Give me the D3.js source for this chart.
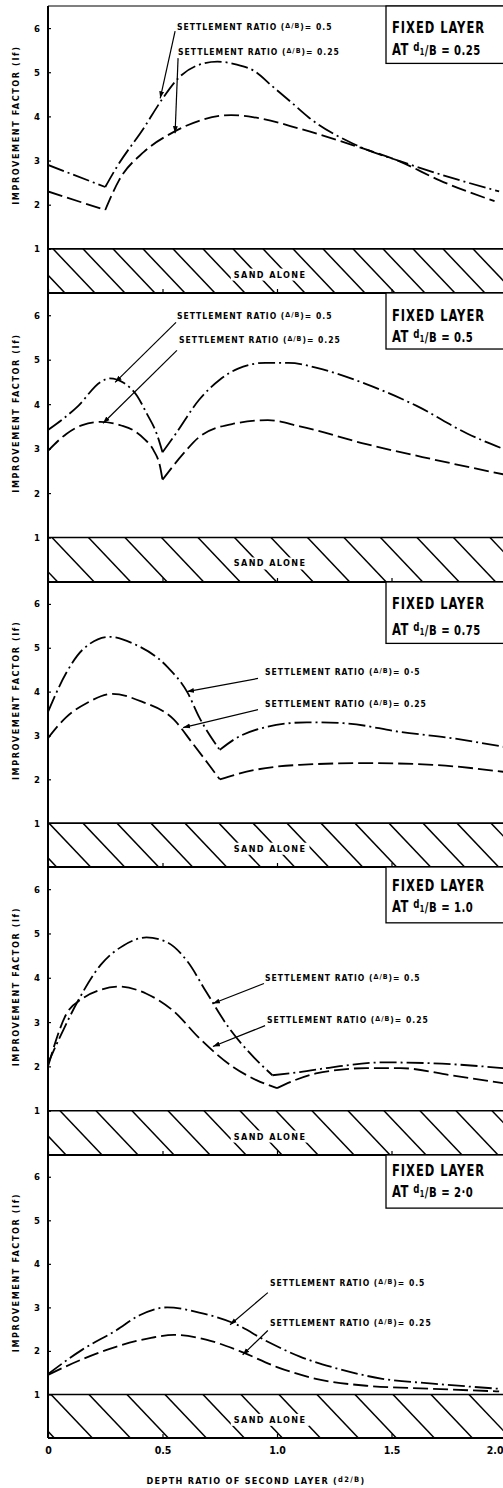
<!DOCTYPE html>
<html><head><meta charset="utf-8">
<script src="https://cdn.jsdelivr.net/npm/d3@7"></script>
<style>
body{margin:0;background:#fff;}
svg{display:block;}
text{font-family:"Liberation Sans Narrow","DejaVu Sans Condensed","Arial Narrow",sans-serif;font-weight:bold;fill:#000;}
</style></head><body><svg id="c" width="503" height="1488"></svg>
<script>
// ---------- DATA ----------
const xTickValues = [0, 0.5, 1.0, 1.5, 2.0];
const xTickLabels = ["0", "0.5", "1.0", "1.5", "2.0"];
const yTickValues = [1, 2, 3, 4, 5, 6];
const fixedLayerLabels = ["0.25", "0.5", "0.75", "1.0", "2·0"];
const ratio05Labels = ["0.5", "0.5", "0·5", "0.5", "0.5"];
const ratio025Labels = ["0.25", "0.25", "0.25", "0.25", "0.25"];

// panel 1 : fixed layer at d1/B = 0.25
const p1Ratio05 = [[0,2.9],[0.25,2.4],[0.30,2.85],[0.42,3.75],[0.5,4.4],[0.57,4.87],[0.65,5.15],[0.74,5.24],[0.82,5.18],[0.9,5.03],[0.98,4.68],[1.06,4.33],[1.14,3.97],[1.35,3.34],[1.54,2.98],[1.73,2.66],[1.97,2.3]];
const p1Ratio025 = [[0,2.3],[0.25,1.88],[0.31,2.55],[0.42,3.2],[0.55,3.65],[0.66,3.9],[0.8,4.03],[0.9,3.98],[1.1,3.72],[1.33,3.35],[1.54,2.97],[1.71,2.55],[1.95,2.08]];
// panel 2 : d1/B = 0.5
const p2Ratio05 = [[0,3.42],[0.13,3.95],[0.23,4.5],[0.27,4.58],[0.33,4.48],[0.39,4.18],[0.43,3.8],[0.475,3.33],[0.5,2.92],[0.56,3.35],[0.66,4.1],[0.75,4.55],[0.83,4.8],[0.95,4.93],[1.05,4.93],[1.2,4.78],[1.39,4.45],[1.61,3.96],[1.83,3.34],[1.99,2.99]];
const p2Ratio025 = [[0,2.95],[0.08,3.33],[0.15,3.53],[0.23,3.6],[0.32,3.52],[0.37,3.42],[0.42,3.22],[0.46,2.97],[0.49,2.58],[0.5,2.3],[0.59,2.88],[0.66,3.26],[0.81,3.56],[0.96,3.64],[1.1,3.5],[1.39,3.1],[1.68,2.76],[1.99,2.42]];
// panel 3 : d1/B = 0.75
const p3Ratio05 = [[0,3.54],[0.08,4.43],[0.15,4.95],[0.27,5.25],[0.37,5.1],[0.52,4.57],[0.61,3.97],[0.66,3.42],[0.75,2.67],[0.81,2.9],[0.96,3.2],[1.13,3.3],[1.29,3.28],[1.54,3.08],[1.76,2.94],[1.99,2.74]];
const p3Ratio025 = [[0,2.94],[0.08,3.42],[0.17,3.74],[0.28,3.95],[0.41,3.77],[0.55,3.36],[0.63,2.83],[0.71,2.28],[0.75,2.0],[0.9,2.21],[1.1,2.33],[1.39,2.37],[1.68,2.33],[1.99,2.17]];
// panel 4 : d1/B = 1.0
const p4Ratio05 = [[0,2.07],[0.05,2.64],[0.13,3.47],[0.23,4.29],[0.33,4.73],[0.43,4.91],[0.52,4.8],[0.61,4.36],[0.69,3.69],[0.79,2.87],[0.9,2.2],[0.98,1.8],[1.1,1.87],[1.24,1.98],[1.46,2.09],[1.68,2.07],[1.99,1.96]];
const p4Ratio025 = [[0,2.0],[0.08,3.18],[0.15,3.53],[0.23,3.73],[0.31,3.8],[0.43,3.64],[0.55,3.24],[0.66,2.64],[0.81,1.98],[0.91,1.69],[1.0,1.51],[1.17,1.84],[1.39,1.96],[1.54,1.96],[1.76,1.8],[1.99,1.62]];
// panel 5 : d1/B = 2.0
const p5Ratio05 = [[0,1.47],[0.15,2.03],[0.3,2.48],[0.4,2.82],[0.52,3.0],[0.66,2.88],[0.81,2.64],[0.96,2.21],[1.1,1.87],[1.24,1.63],[1.46,1.36],[1.68,1.25],[1.97,1.13]];
const p5Ratio025 = [[0,1.45],[0.15,1.81],[0.3,2.1],[0.45,2.3],[0.55,2.37],[0.69,2.26],[0.84,1.99],[1.0,1.63],[1.17,1.36],[1.39,1.2],[1.68,1.13],[1.97,1.07]];

// sharp corners (minimum points) of each series
const kinks05 = [0.25, 0.5, 0.75, 0.98, null];
const kinks025 = [0.25, 0.5, 0.75, 1.0, null];

const series05 = [p1Ratio05, p2Ratio05, p3Ratio05, p4Ratio05, p5Ratio05];
const series025 = [p1Ratio025, p2Ratio025, p3Ratio025, p4Ratio025, p5Ratio025];

// ---------- LAYOUT ----------
const panelBottoms = [293, 582, 867, 1155, 1438];
const panelTops = [6, 293, 582, 867, 1155];
const hatchSpacing = [30, 36.5, 34, 36, 38];
const hatchStart = [53, 52, 49, 60, 51];
// annotation layout in data coords: [textX, textY, arrowFromX, arrowFromY, arrowToX, arrowToY]
const ann05 = [[0.563,5.95,0.555,5.93,0.49,4.41],[0.563,5.91,0.559,5.84,0.293,4.49],[0.948,4.37,0.917,4.30,0.607,4.0],[0.948,3.93,0.943,3.87,0.72,3.42],[0.969,3.5,0.96,3.34,0.795,2.6]];
const ann025 = [[0.568,5.38,0.568,5.32,0.555,3.62],[0.572,5.37,0.563,5.21,0.24,3.57],[0.948,3.64,0.917,3.59,0.59,3.18],[0.956,2.97,0.948,2.92,0.72,2.45],[0.969,2.58,0.96,2.47,0.85,1.91]];
const legendBottomV = [5.2, 5.24, 5.1, 5.24, 5.28];
const legendLine1 = [27, 28, 27, 24, 21];
const legendLine2 = [49, 49, 53, 45, 42];

const svg = d3.select("#c");
const x = d3.scaleLinear().domain([0, 2]).range([48, 506]);

const defs = svg.append("defs");
defs.append("marker").attr("id","arr").attr("viewBox","0 0 10 10").attr("refX",10).attr("refY",5)
  .attr("markerWidth",7).attr("markerHeight",7).attr("markerUnits","userSpaceOnUse").attr("orient","auto")
  .append("path").attr("d","M0,1.5 L10,5 L0,8.5 Z").attr("fill","#000");

function splitAt(data, k) {
  if (k === null) return [data];
  return [data.filter(d => d[0] <= k), data.filter(d => d[0] >= k)];
}

for (let i = 0; i < 5; i++) {
  const bottom = panelBottoms[i], top = panelTops[i];
  const y = d3.scaleLinear().domain([0, 6.5]).range([bottom, top]);
  const g = svg.append("g");

  defs.append("clipPath").attr("id","clip"+i).append("rect")
    .attr("x", x(0)).attr("y", top).attr("width", 503 - x(0)).attr("height", bottom - top);
  defs.append("clipPath").attr("id","band"+i).append("rect")
    .attr("x", x(0)).attr("y", y(1)).attr("width", 503 - x(0)).attr("height", y(0) - y(1));

  // hatch band (sand alone)
  const h = y(0) - y(1);
  const hatch = g.append("g").attr("clip-path","url(#band"+i+")");
  const starts = d3.range(hatchStart[i] - 2*hatchSpacing[i], 540, hatchSpacing[i]);
  hatch.selectAll("line").data(starts).join("line")
    .attr("x1", d => d).attr("y1", y(1)).attr("x2", d => d + h*0.95).attr("y2", y(0))
    .attr("stroke","#000").attr("stroke-width",1.5);
  g.append("line").attr("x1", x(0)).attr("x2", 503).attr("y1", y(1)).attr("y2", y(1))
    .attr("stroke","#000").attr("stroke-width",1.6);
  g.append("line").attr("x1", x(0)).attr("x2", 503).attr("y1", y(0)).attr("y2", y(0))
    .attr("stroke","#000").attr("stroke-width",2.2);
  if (i === 0) g.append("line").attr("x1", x(0)).attr("x2", 503).attr("y1", top).attr("y2", top)
    .attr("stroke","#000").attr("stroke-width",1.2);

  // sand alone label
  const sa = g.append("text").attr("x", x(0.97)).attr("y", y(0.42)).attr("dy","0.35em")
    .attr("text-anchor","middle").attr("font-size", 9).attr("letter-spacing", 1.4)
    .text("SAND  ALONE");
  const bb = sa.node().getBBox();
  g.insert("rect", "text").attr("x", bb.x - 3).attr("y", bb.y - 1).attr("width", bb.width + 6)
    .attr("height", bb.height + 2).attr("fill","#fff");

  // curves
  const line = d3.line().x(d => x(d[0])).y(d => y(d[1])).curve(d3.curveMonotoneX);
  const cg = g.append("g").attr("clip-path","url(#clip"+i+")");
  splitAt(series05[i], kinks05[i]).forEach(seg => {
    cg.append("path").attr("d", line(seg)).attr("fill","none").attr("stroke","#000")
      .attr("stroke-width",1.8).attr("stroke-dasharray","17,4,2,4");
  });
  splitAt(series025[i], kinks025[i]).forEach(seg => {
    cg.append("path").attr("d", line(seg)).attr("fill","none").attr("stroke","#000")
      .attr("stroke-width",1.8).attr("stroke-dasharray","15,5");
  });

  // annotations
  [[ann05[i], ratio05Labels[i]], [ann025[i], ratio025Labels[i]]].forEach(([a, lab]) => {
    g.append("line").attr("x1", x(a[2])).attr("y1", y(a[3])).attr("x2", x(a[4])).attr("y2", y(a[5]))
      .attr("stroke","#000").attr("stroke-width",1.2).attr("marker-end","url(#arr)");
    const t = g.append("text").attr("x", x(a[0])).attr("y", y(a[1])).attr("font-size", 8.5)
      .attr("letter-spacing", 1.0);
    t.append("tspan").text("SETTLEMENT  RATIO (");
    t.append("tspan").attr("font-size", 7).attr("dy", -2).text("Δ/B");
    t.append("tspan").attr("dy", 2).text(")= " + lab);
  });

  // legend box
  const lb = y(legendBottomV[i]);
  const lx = x(1.476);
  g.append("rect").attr("x", lx).attr("y", top).attr("width", 140).attr("height", lb - top)
    .attr("fill","#fff").attr("stroke","#000").attr("stroke-width",1.3);
  g.append("g").attr("transform", `translate(${lx + 6},${top + legendLine1[i]}) scale(0.8,1)`)
    .append("text").attr("font-size", 16).attr("letter-spacing", 1.2).text("FIXED LAYER");
  const l2 = g.append("g").attr("transform", `translate(${lx + 6},${top + legendLine2[i]}) scale(0.8,1)`)
    .append("text").attr("font-size", 16).attr("letter-spacing", 0.6);
  l2.append("tspan").text("AT ");
  l2.append("tspan").attr("font-size", 12).attr("dy", -4).text("d");
  l2.append("tspan").attr("font-size", 9).attr("dy", 4).text("1");
  l2.append("tspan").attr("font-size", 14).text("/B = " + fixedLayerLabels[i]);

  // y axis ticks
  const ya = d3.axisLeft(y).tickValues(yTickValues).tickSize(-3).tickPadding(8).tickFormat(d3.format("d"));
  const yg = g.append("g").attr("transform", `translate(${x(0)},0)`).call(ya);
  yg.select(".domain").remove();
  yg.selectAll("text").attr("font-size", 9.5).attr("font-family", null);
  yg.selectAll("line").attr("stroke-width", 1.2);

  // bottom tick marks
  const xa = d3.axisBottom(x).tickValues(xTickValues).tickSize(-4)
    .tickFormat((d, j) => i === 4 ? xTickLabels[j] : "").tickPadding(9);
  const xg = g.append("g").attr("transform", `translate(0,${bottom})`).call(xa);
  xg.select(".domain").remove();
  xg.selectAll("text").attr("font-size", 10.5).attr("font-family", null);
  xg.selectAll(".tick").filter(d => d === 2).select("text").attr("text-anchor", "end").attr("dx", -3);
  xg.selectAll("line").attr("stroke-width", 1.2);

  // y axis title
  g.append("text").attr("transform", `translate(19,${y(3.8)}) rotate(-90)`).attr("text-anchor","middle")
    .attr("font-size", 9).attr("letter-spacing", 1.6).text("IMPROVEMENT  FACTOR (If)");
}

// left axis line
svg.append("line").attr("x1", x(0)).attr("x2", x(0)).attr("y1", panelTops[0]).attr("y2", panelBottoms[4])
  .attr("stroke","#000").attr("stroke-width",2);

// x axis title
const xt = svg.append("text").attr("x", 256).attr("y", 1484).attr("text-anchor","middle")
  .attr("font-size", 9).attr("letter-spacing", 1.3);
xt.append("tspan").text("DEPTH RATIO OF SECOND LAYER  (");
xt.append("tspan").attr("font-size", 7.5).attr("dy", -2).text("d2/B");
xt.append("tspan").attr("dy", 2).text(")");
</script></body></html>
